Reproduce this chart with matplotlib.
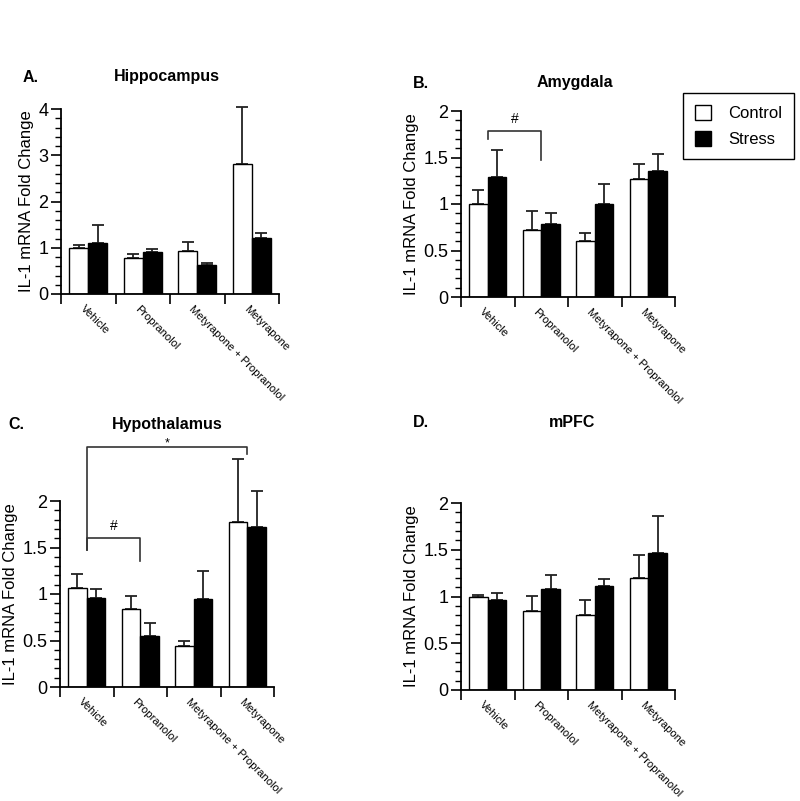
import numpy as np
import matplotlib
matplotlib.use("Agg")
from matplotlib import pyplot as plt
from matplotlib.patches import Patch

plt.rcParams["font.family"] = ["Liberation Sans", "DejaVu Sans"]

W, H = 800, 801

treatments = ["Vehicle", "Propranolol", "Metyrapone + Propranolol", "Metyrapone"]

# mean and top of error bar, per region
hippo_ctrl = [1.00, 0.77, 0.94, 2.82]
hippo_ctrl_top = [1.05, 0.86, 1.13, 4.04]
hippo_stress = [1.10, 0.91, 0.62, 1.21]
hippo_stress_top = [1.50, 0.98, 0.67, 1.31]

amyg_ctrl = [1.00, 0.72, 0.60, 1.27]
amyg_ctrl_top = [1.15, 0.92, 0.69, 1.43]
amyg_stress = [1.29, 0.78, 1.00, 1.36]
amyg_stress_top = [1.58, 0.905, 1.21, 1.54]

hypo_ctrl = [1.06, 0.84, 0.44, 1.77]
hypo_ctrl_top = [1.22, 0.98, 0.49, 2.45]
hypo_stress = [0.96, 0.545, 0.95, 1.72]
hypo_stress_top = [1.05, 0.69, 1.25, 2.11]

mpfc_ctrl = [1.00, 0.84, 0.80, 1.20]
mpfc_ctrl_top = [1.014, 1.01, 0.96, 1.44]
mpfc_stress = [0.964, 1.085, 1.11, 1.47]
mpfc_stress_top = [1.04, 1.23, 1.19, 1.86]

# significance brackets: (left group, right group, bar y, left leg end, right leg end, mark)
amyg_brackets = [(0, 1, 1.79, 1.70, 1.47, "#")]
hypo_brackets = [(0, 3, 2.58, 1.47, 2.51, "*"), (0, 1, 1.60, 1.47, 1.35, "#")]


def px_rect(left, top, right, bottom):
    return [left / W, 1 - bottom / H, (right - left) / W, (bottom - top) / H]


def px(x, y):
    return x / W, 1 - y / H


def panel(fig, rect, ctrl, ctrl_top, stress, stress_top, ymax, major, minor,
          yticklabels, brackets=()):
    ax = fig.add_axes(rect)
    x = np.arange(len(treatments))
    bw = 0.35
    ax.bar(x - bw / 2, ctrl, bw, color="white", edgecolor="black", linewidth=1.0, zorder=2)
    ax.bar(x + bw / 2, stress, bw, color="black", edgecolor="black", linewidth=1.0, zorder=2)
    for xs, m, t in [(x - bw / 2, ctrl, ctrl_top), (x + bw / 2, stress, stress_top)]:
        m = np.array(m)
        t = np.array(t)
        ax.errorbar(xs, m, yerr=[np.zeros_like(m), t - m], fmt="none", ecolor="#222222",
                    elinewidth=1.3, capsize=4.5, capthick=1.3, clip_on=False, zorder=1)

    for g1, g2, yb, y1, y2, mark in brackets:
        ax.plot([g1, g1, g2, g2], [y1, yb, yb, y2], color="#333333", lw=1.2,
                clip_on=False, zorder=3)
        off, size = (2.5, 9) if mark == "*" else (8.5, 10)
        ax.annotate(mark, xy=((g1 + g2) / 2, yb), xytext=(0, off), textcoords="offset points",
                    ha="center", va="center", fontsize=size, annotation_clip=False)

    ax.set_xlim(-0.5, len(treatments) - 0.5)
    ax.set_ylim(0, ymax)
    ax.set_xticks(np.arange(len(treatments) + 1) - 0.5)
    ax.set_xticklabels([])
    ax.set_xticks(x - 0.05, minor=True)
    ax.set_xticklabels(treatments, minor=True, rotation=-45, ha="left", va="top",
                       rotation_mode="anchor", fontsize=8)
    ax.tick_params(axis="x", which="major", direction="out", length=7, width=1.2)
    ax.tick_params(axis="x", which="minor", length=0, pad=7)
    ax.set_yticks(np.arange(0, ymax + 1e-9, major))
    ax.set_yticklabels(yticklabels, fontsize=13)
    ax.set_yticks(np.arange(0, ymax + 1e-9, minor), minor=True)
    ax.tick_params(axis="y", which="major", direction="out", length=7, width=1.2, pad=2)
    ax.tick_params(axis="y", which="minor", direction="out", length=4, width=1.0)
    ax.set_ylabel("IL-1 mRNA Fold Change", fontsize=12, labelpad=3)
    for s in ["top", "right"]:
        ax.spines[s].set_visible(False)
    for s in ["left", "bottom"]:
        ax.spines[s].set_linewidth(1.3)
    return ax


fig = plt.figure(figsize=(8, 8.01), dpi=100)

panel(fig, px_rect(61, 109, 279, 294), hippo_ctrl, hippo_ctrl_top, hippo_stress,
      hippo_stress_top, 4, 1, 0.2, ["0", "1", "2", "3", "4"])
panel(fig, px_rect(461, 111, 675, 297), amyg_ctrl, amyg_ctrl_top, amyg_stress,
      amyg_stress_top, 2, 0.5, 0.1, ["0", "0.5", "1", "1.5", "2"], amyg_brackets)
panel(fig, px_rect(60, 501, 274, 687), hypo_ctrl, hypo_ctrl_top, hypo_stress,
      hypo_stress_top, 2, 0.5, 0.1, ["0", "0.5", "1", "1.5", "2"], hypo_brackets)
panel(fig, px_rect(461, 503, 675, 690), mpfc_ctrl, mpfc_ctrl_top, mpfc_stress,
      mpfc_stress_top, 2, 0.5, 0.1, ["0", "0.5", "1", "1.5", "2"])

titles = [("A.", 23, 77, "Hippocampus", 167), ("B.", 413, 83, "Amygdala", 575),
          ("C.", 8, 425, "Hypothalamus", 167), ("D.", 413, 423, "mPFC", 572)]
for letter, lx, ty, name, tx in titles:
    fig.text(*px(lx, ty), letter, ha="left", va="center", fontsize=11.5, fontweight="bold")
    fig.text(*px(tx, ty), name, ha="center", va="center", fontsize=11.5, fontweight="bold")

handles = [Patch(facecolor="white", edgecolor="black", linewidth=1.0, label="Control"),
           Patch(facecolor="black", edgecolor="black", label="Stress")]
fig.legend(handles=handles, loc="upper left", bbox_to_anchor=px(683, 93), borderaxespad=0,
           fontsize=12, frameon=True, fancybox=False, edgecolor="black", framealpha=1,
           handlelength=1.0, handleheight=1.0, borderpad=0.7, labelspacing=0.6,
           handletextpad=1.0).get_frame().set_linewidth(1.0)

fig.savefig("out.png", dpi=100)
